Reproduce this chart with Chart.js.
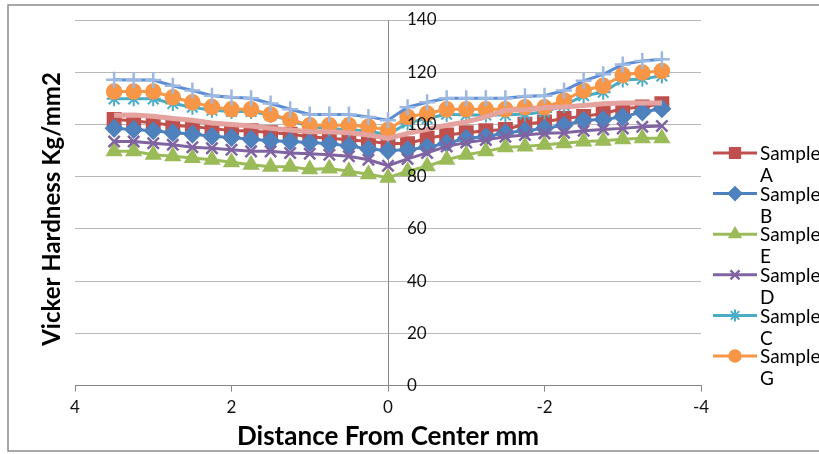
<!DOCTYPE html>
<html>
<head>
<meta charset="utf-8">
<script src="https://cdn.jsdelivr.net/npm/chart.js@4.4.0/dist/chart.umd.min.js"></script>
<style>
  body { margin: 0; background: #ffffff; }
</style>
</head>
<body>
<canvas id="grafica" width="819" height="454"></canvas>
<script>
// Datos (distancia en mm, dureza en Kg/mm2)
var distancias = [3.5, 3.25, 3, 2.75, 2.5, 2.25, 2, 1.75, 1.5, 1.25, 1, 0.75, 0.5, 0.25, 0,
    -0.25, -0.5, -0.75, -1, -1.25, -1.5, -1.75, -2, -2.25, -2.5, -2.75, -3, -3.25, -3.5];

var sampleA = [101.9, 101.4, 100.6, 99.7, 99.1, 98.5, 97.6, 97.6, 96.8, 96.3, 95.3, 94.7, 94.1, 93.5, 92.8,
    92.6, 94.7, 96, 96.8, 97.6, 98.1, 100.1, 101, 102.3, 103.1, 104.2, 106, 106.7, 107.9];
var sampleB = [98.5, 98.1, 97.6, 96.8, 96.3, 95.5, 95, 94.3, 93.8, 93.5, 93.1, 92.6, 91.8, 90.6, 90,
    90.3, 91.3, 92.8, 94.7, 95.3, 96.8, 97.6, 98.5, 99.7, 101.6, 101.9, 102.9, 104.8, 106];
var sampleE = [89.7, 89.7, 88.4, 87.8, 87.2, 86.5, 85.5, 84.6, 83.8, 83.8, 82.8, 83.1, 82.1, 80.9, 79.6,
    82.1, 84, 86.5, 88.4, 89.7, 91.3, 91.6, 92.2, 92.8, 93.5, 93.8, 94.3, 94.7, 94.7];
var sampleD = [93.5, 93.5, 92.8, 92.2, 91.3, 90.9, 90.3, 89.7, 89.7, 89.1, 88.8, 88.4, 87.8, 86.5, 84.2,
    86.8, 89.1, 91.6, 93.1, 94.1, 95.3, 96, 96.6, 96.8, 97.6, 98.1, 98.5, 99.1, 99.4];
var sampleC = [109.8, 109.8, 109.8, 108, 106.6, 105.4, 105, 105, 103.5, 101.6, 99.1, 98.5, 98, 97.5, 96,
    100.6, 102.3, 103.9, 103.6, 103.6, 103.6, 104, 104.8, 107.3, 111, 112.3, 117, 117.4, 118.6];
var sampleG = [112.6, 112.6, 112.6, 110.4, 108.5, 106.7, 105.8, 105.8, 103.8, 101.9, 99.7, 99.7, 99.7, 99.1, 97.9,
    102.9, 104.2, 105.8, 105.8, 105.8, 105.8, 106.6, 106.6, 109.2, 113, 114.8, 118.9, 119.9, 120.5];
var sampleF = [117.1, 117, 117, 114.8, 113, 111, 110.4, 110, 108, 105.8, 103.8, 103.8, 103.8, 102.9, 101.6,
    106.6, 108.5, 110, 110, 110, 110, 110.8, 111, 113, 116.7, 119.2, 123, 124.3, 125];
var sampleH = [103.5, 103.6, 103.1, 102.3, 101.6, 100.6, 100, 99.4, 98.5, 97.9, 97.2, 97.2, 96.8, 96, 94.6,
    96.6, 98.1, 99.7, 101, 102.9, 105.4, 105.6, 106.4, 106.7, 107.3, 107.9, 108.2, 108.2, 108.2];

var ticksX = [4, 2, 0, -2, -4];
var ticksY = [0, 20, 40, 60, 80, 100, 120, 140];

function puntos(valores) {
    return valores.map(function (v, i) { return { x: distancias[i], y: v }; });
}

function serie(nombre, valores, color, estilo, radio, enLeyenda) {
    return {
        label: nombre,
        data: puntos(valores),
        borderColor: color,
        backgroundColor: color,
        pointBackgroundColor: color,
        pointBorderColor: color,
        pointStyle: estilo,
        pointRadius: radio,
        pointBorderWidth: 1.5,
        borderWidth: 3,
        tension: 0,
        enLeyenda: enLeyenda
    };
}

var series = [
    serie('Sample A', sampleA, '#C0504D', 'rect', 9.5, true),
    serie('Sample B', sampleB, '#4F81BD', 'rectRot', 8.5, true),
    serie('Sample E', sampleE, '#9BBB59', 'triangle', 8.5, true),
    serie('Sample D', sampleD, '#8064A2', 'crossRot', 8, true),
    serie('Sample C', sampleC, '#4BACC6', 'star', 7.5, true),
    serie('Sample G', sampleG, '#F79646', 'circle', 7.5, true),
    serie('Sample F', sampleF, '#5B8DD4', 'cross', 8, false),
    serie('Sample H', sampleH, '#E5A39F', 'circle', 0, false)
];
series[3].pointBorderWidth = 2.5;
series[4].pointBorderWidth = 2;
series[6].pointBorderColor = '#9DB8E2';
series[6].pointBorderWidth = 2.5;
series[7].borderWidth = 5;
// Excel dibuja las ultimas series encima
series.forEach(function (s, i) { s.order = series.length - i; });

// Marco, leyenda, etiquetas del eje Y y titulo del eje Y
var extras = {
    id: 'extras',
    beforeDraw: function (chart) {
        var ctx = chart.ctx;
        ctx.save();
        ctx.fillStyle = '#ffffff';
        ctx.fillRect(0, 0, chart.width, chart.height);
        ctx.strokeStyle = '#8c8c8c';
        ctx.lineWidth = 1.5;
        ctx.strokeRect(8, 5, 840, 446);
        ctx.restore();
    },
    afterDatasetsDraw: function (chart) {
        var ctx = chart.ctx;
        var escalaY = chart.scales.y;
        var x0 = chart.scales.x.getPixelForValue(0);
        ctx.save();
        ctx.fillStyle = '#111111';
        ctx.font = '17px Lato';
        ctx.textAlign = 'left';
        ctx.textBaseline = 'middle';
        escalaY.ticks.forEach(function (t) {
            ctx.fillText(String(t.value), x0 + 19, escalaY.getPixelForValue(t.value));
        });
        ctx.restore();
    },
    afterDraw: function (chart) {
        var ctx = chart.ctx;
        ctx.save();
        // titulo eje Y
        ctx.translate(52, 209);
        ctx.rotate(-Math.PI / 2);
        ctx.fillStyle = '#000000';
        ctx.font = 'bold 24px Lato';
        ctx.textAlign = 'center';
        ctx.textBaseline = 'middle';
        ctx.fillText('Vicker Hardness Kg/mm2', 0, 0);
        ctx.restore();

        // leyenda (cortada a la derecha como en el original)
        var fila = 0;
        chart.data.datasets.forEach(function (ds) {
            if (!ds.enLeyenda) return;
            var y = 153 + fila * 40.6;
            var partes = ds.label.split(' ');
            ctx.save();
            ctx.strokeStyle = ds.borderColor;
            ctx.lineWidth = 3;
            ctx.beginPath();
            ctx.moveTo(713, y);
            ctx.lineTo(757, y);
            ctx.stroke();
            ctx.fillStyle = ds.pointBackgroundColor;
            ctx.strokeStyle = ds.pointBorderColor;
            ctx.lineWidth = ds.pointBorderWidth;
            Chart.helpers.drawPoint(ctx, { pointStyle: ds.pointStyle, radius: ds.pointRadius * 0.8, rotation: 0, borderWidth: ds.pointBorderWidth }, 735, y);
            ctx.fillStyle = '#000000';
            ctx.font = '19px Lato';
            ctx.textAlign = 'left';
            ctx.textBaseline = 'middle';
            ctx.fillText(partes[0], 760, y + 1);
            ctx.fillText(partes[1], 760, y + 23);
            ctx.restore();
            fila++;
        });
    }
};

var ctx = document.getElementById('grafica').getContext('2d');
var grafica = new Chart(ctx, {
    type: 'line',
    data: { datasets: series },
    options: {
        responsive: false,
        animation: false,
        layout: { padding: { left: 75, right: 118, top: 20, bottom: 4 } },
        plugins: {
            legend: { display: false },
            tooltip: { enabled: false }
        },
        scales: {
            x: {
                type: 'linear',
                reverse: true,
                min: -4,
                max: 4,
                afterBuildTicks: function (axis) {
                    axis.ticks = ticksX.map(function (v) { return { value: v }; });
                },
                grid: { drawOnChartArea: false, drawTicks: true, tickLength: 6, color: '#868686' },
                border: { color: '#868686', width: 1 },
                ticks: { color: '#111111', font: { family: 'Lato', size: 17 }, padding: 6, maxRotation: 0 },
                title: {
                    display: true,
                    text: 'Distance From Center mm',
                    color: '#000000',
                    font: { family: 'Lato', size: 26, weight: 'bold', lineHeight: 1 },
                    padding: { top: 0, bottom: 0 }
                }
            },
            y: {
                type: 'linear',
                position: { x: 0 },
                min: 0,
                max: 140,
                afterBuildTicks: function (axis) {
                    axis.ticks = ticksY.map(function (v) { return { value: v }; });
                },
                grid: { color: '#b8b8b8', drawTicks: false },
                border: { color: '#868686', width: 1 },
                ticks: { display: false }
            }
        }
    },
    plugins: [extras]
});
</script>
</body>
</html>
